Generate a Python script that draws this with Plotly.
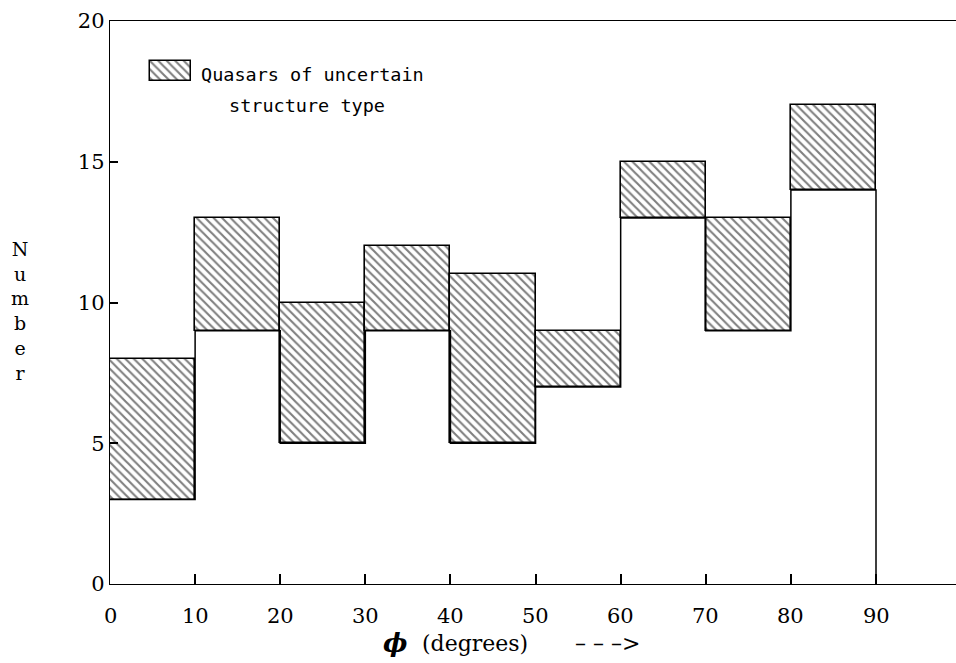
import numpy as np
import plotly.graph_objects as go

# Histogram of phi in 10-degree bins
bin_left = [0, 10, 20, 30, 40, 50, 60, 70, 80]
bin_width = 10
# Quasars of definite structure type (open part of each bin)
definite = [3, 9, 5, 9, 5, 7, 13, 9, 14]
# Total including quasars of uncertain structure type (top of hatched part)
total = [8, 13, 10, 12, 11, 9, 15, 13, 17]
x_ticks = [0, 10, 20, 30, 40, 50, 60, 70, 80, 90]
y_ticks = [0, 5, 10, 15, 20]

definite = np.array(definite)
total = np.array(total)
centers = np.array(bin_left) + bin_width / 2
uncertain = total - definite

W, H = 956, 663
L, R, T, B = 110, 0, 21, 79
plot_w = W - L - R
plot_h = H - T - B

serif = "DejaVu Serif, Liberation Serif, serif"
tick_font = dict(family=serif, size=21, color="black")
label_font = dict(family="DejaVu Sans Mono", size=18.5, color="black")

fig = go.Figure()

# step outline of the definite counts
edges = list(bin_left) + [bin_left[-1] + bin_width, bin_left[-1] + bin_width]
steps = list(definite) + [definite[-1], 0]
fig.add_trace(go.Scatter(
    x=edges, y=steps, mode="lines", line_shape="hv",
    line=dict(color="black", width=1.5), showlegend=False, hoverinfo="skip",
))

# hatched blocks for the uncertain quasars, stacked on the definite counts
hatch = dict(shape="\\", fgcolor="black", bgcolor="white", size=6, solidity=0.35)
fig.add_trace(go.Bar(
    x=centers, y=uncertain, base=definite, width=bin_width,
    marker=dict(color="white", line=dict(color="black", width=1.6), pattern=hatch),
    showlegend=False,
))

# legend swatch on its own small axes (ranges padded so the outline is not clipped)
fig.add_trace(go.Bar(
    x=[0], y=[1], width=1, xaxis="x2", yaxis="y2",
    marker=dict(color="white", line=dict(color="black", width=1.5), pattern=hatch),
    showlegend=False, hoverinfo="skip",
))

fig.update_layout(
    width=W, height=H,
    margin=dict(l=L, r=R, t=T, b=B),
    paper_bgcolor="white", plot_bgcolor="white",
    bargap=0,
    xaxis=dict(
        range=[0, 99.4], tickvals=x_ticks, showticklabels=False,
        ticks="inside", ticklen=10, tickwidth=1.5, tickcolor="black",
        showline=True, linecolor="black", linewidth=1.4, mirror=True,
        showgrid=False, zeroline=False, layer="above traces",
    ),
    yaxis=dict(
        range=[0, 20], tickvals=y_ticks, ticktext=[str(v) for v in y_ticks],
        ticksuffix="\u00a0",
        ticks="inside", ticklen=8, tickwidth=1.5, tickcolor="black",
        showline=True, linecolor="black", linewidth=1.4,
        showgrid=False, zeroline=False, tickfont=tick_font,
        layer="above traces",
    ),
    xaxis2=dict(domain=[(148 - L) / plot_w, (193 - L) / plot_w], range=[-0.55, 0.55],
                visible=False, anchor="y2"),
    yaxis2=dict(domain=[(584 - 83) / plot_h, (584 - 59) / plot_h], range=[-0.1, 1.1],
                visible=False, anchor="x2"),
)

# x tick labels, set a little further below the axis than plotly's default
for v in x_ticks:
    fig.add_annotation(
        text=str(v), xref="x", yref="paper", x=v, y=0,
        xanchor="center", yanchor="middle", yshift=-32,
        showarrow=False, font=tick_font,
    )

fig.add_annotation(
    text="Quasars of uncertain", xref="paper", yref="paper",
    x=(199 - L) / plot_w, y=(584 - 74) / plot_h, xanchor="left", yanchor="middle",
    showarrow=False, font=label_font,
)
fig.add_annotation(
    text="structure type", xref="paper", yref="paper",
    x=(227 - L) / plot_w, y=(584 - 106) / plot_h, xanchor="left", yanchor="middle",
    showarrow=False, font=label_font,
)

# vertical y-axis title
fig.add_annotation(
    text="<br>".join("Number"), xref="paper", yref="paper",
    x=(20 - L) / plot_w, y=(584 - 311) / plot_h, xanchor="center", yanchor="middle",
    showarrow=False, font=dict(family=serif, size=19, color="black"),
)

# x-axis title: symbol, unit and arrow
title_y = -(643 - 584) / plot_h
fig.add_annotation(
    text="<b><i>\u03d5</i></b>", xref="paper", yref="paper",
    x=(381 - L) / plot_w, y=title_y, xanchor="left", yanchor="middle",
    showarrow=False, font=dict(family=serif, size=26, color="black"),
)
fig.add_annotation(
    text="(degrees)", xref="paper", yref="paper",
    x=(420 - L) / plot_w, y=title_y, xanchor="left", yanchor="middle",
    showarrow=False, font=dict(family=serif, size=22, color="black"),
)
fig.add_annotation(
    text="\u2013 \u2013 \u2013>", xref="paper", yref="paper",
    x=(573 - L) / plot_w, y=title_y, xanchor="left", yanchor="middle",
    showarrow=False, font=dict(family=serif, size=22, color="black"),
)

fig.write_html("out.html")
